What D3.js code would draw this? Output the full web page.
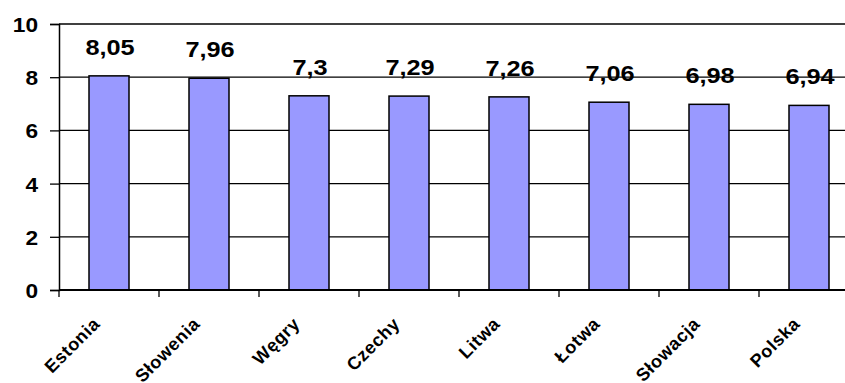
<!DOCTYPE html>
<html>
<head>
<meta charset="utf-8">
<script src="https://cdn.jsdelivr.net/npm/d3@7"></script>
<style>
  html, body { margin: 0; padding: 0; background: #fff; }
  svg { display: block; }
  text { font-family: "Liberation Sans", Arial, sans-serif; font-weight: bold; fill: #000; }
</style>
</head>
<body>
<svg id="chart" width="845" height="383"></svg>
<script>
// Country names and their scores
const countries = ["Estonia", "Słowenia", "Węgry", "Czechy", "Litwa", "Łotwa", "Słowacja", "Polska"];
const scores = [8.05, 7.96, 7.3, 7.29, 7.26, 7.06, 6.98, 6.94];
const scoreLabels = ["8,05", "7,96", "7,3", "7,29", "7,26", "7,06", "6,98", "6,94"];
const yTicks = [0, 2, 4, 6, 8, 10];

const svg = d3.select("#chart");
const plotLeft = 59, plotTop = 24, plotBottom = 290;
const plotRight = plotLeft + 800; // plot continues past the right edge of the view

const x = d3.scaleBand().domain(countries).range([plotLeft, plotRight]).paddingInner(0.6).paddingOuter(0.3);
const xStep = d3.scaleBand().domain(countries).range([plotLeft, plotRight]);
const y = d3.scaleLinear().domain([0, 10]).range([plotBottom, plotTop]);

// Horizontal gridlines
svg.append("g")
  .selectAll("line")
  .data(yTicks.filter(d => d > 0))
  .join("line")
  .attr("x1", plotLeft).attr("x2", 845)
  .attr("y1", d => y(d)).attr("y2", d => y(d))
  .attr("stroke", "#000").attr("stroke-width", 1.3);

// Y axis; labels slightly widened
const yAxis = svg.append("g")
  .attr("transform", `translate(${plotLeft},0)`)
  .call(d3.axisLeft(y).tickValues(yTicks).tickSize(9).tickPadding(11).tickFormat(d3.format("d")));
yAxis.select(".domain").attr("stroke", "#000").attr("stroke-width", 1.5);
yAxis.selectAll(".tick line").attr("stroke", "#000").attr("stroke-width", 1.3);
yAxis.selectAll(".tick text")
  .attr("font-size", 21)
  .attr("font-family", "Liberation Sans, Arial, sans-serif")
  .attr("font-weight", "bold").attr("fill", "#000")
  .attr("x", 0)
  .attr("transform", "translate(-21,0) scale(1.08,1)")
  .attr("dy", "0.36em");

// Bars
svg.append("g")
  .selectAll("rect")
  .data(countries)
  .join("rect")
  .attr("x", d => x(d))
  .attr("width", x.bandwidth())
  .attr("y", (d, i) => y(scores[i]))
  .attr("height", (d, i) => y(0) - y(scores[i]))
  .attr("fill", "#9999FF")
  .attr("stroke", "#000")
  .attr("stroke-width", 1.5);

// X axis with boundary ticks
svg.append("line")
  .attr("x1", plotLeft).attr("x2", 845)
  .attr("y1", y(0)).attr("y2", y(0))
  .attr("stroke", "#000").attr("stroke-width", 2);
svg.append("g")
  .selectAll("line")
  .data(countries)
  .join("line")
  .attr("x1", d => xStep(d)).attr("x2", d => xStep(d))
  .attr("y1", y(0)).attr("y2", y(0) + 7)
  .attr("stroke", "#000").attr("stroke-width", 1.3);

// Category labels, rotated
svg.append("g")
  .selectAll("text")
  .data(countries)
  .join("text")
  .attr("text-anchor", "end")
  .attr("font-size", 18)
  .attr("letter-spacing", "0.6px")
  .attr("transform", d => `translate(${x(d) + x.bandwidth() / 2 - 8},${y(0) + 35}) rotate(-45)`)
  .text(d => d);

// Value labels, widened glyphs
svg.append("g")
  .selectAll("text")
  .data(countries)
  .join("text")
  .attr("text-anchor", "middle")
  .attr("font-size", 22)
  .attr("transform", (d, i) => `translate(${x(d) + x.bandwidth() / 2 + 1},${y(scores[i]) - 21}) scale(1.15,1)`)
  .text((d, i) => scoreLabels[i]);
</script>
</body>
</html>
